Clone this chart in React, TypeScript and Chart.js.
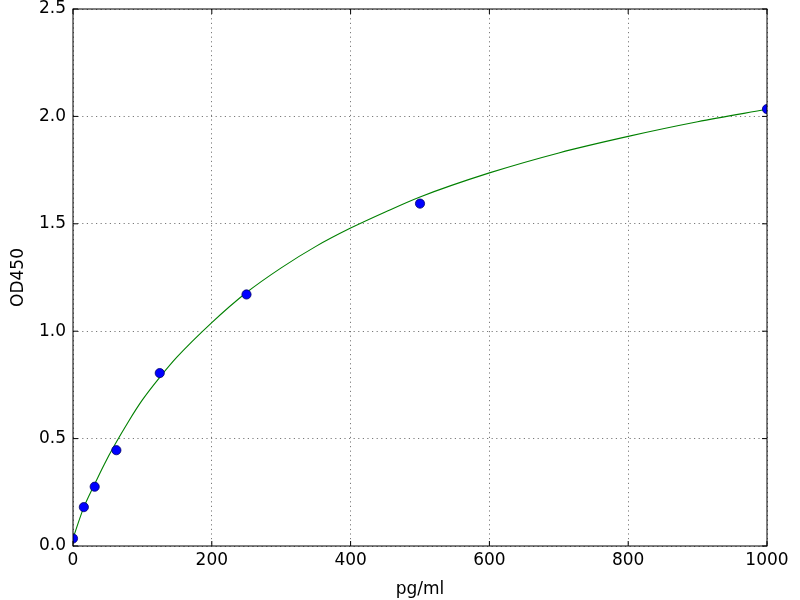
import React, { useEffect, useRef } from "react";
import { Chart, registerables } from "chart.js";

Chart.register(...registerables);

// standards (pg/ml) and measured OD450
const concentrations = [0, 15.625, 31.25, 62.5, 125, 250, 500, 1000];
const odValues = [0.035, 0.181, 0.276, 0.446, 0.805, 1.171, 1.594, 2.034];

// fitted curve
const fitX = [0, 15, 30, 45, 60, 80, 100, 125, 150, 200, 250, 300, 350, 400, 450, 500, 600, 700, 800, 900, 1000];
const fitY = [0.035, 0.175, 0.28, 0.38, 0.47, 0.58, 0.68, 0.785, 0.88, 1.04, 1.18, 1.295, 1.395, 1.48, 1.555, 1.625, 1.737, 1.83, 1.907, 1.975, 2.033];

const xTicks = [0, 200, 400, 600, 800, 1000];
const yTicks = [0, 0.5, 1.0, 1.5, 2.0, 2.5];

// box around the plot with inward tick marks, like matplotlib classic
const framePlugin = {
  id: "frame",
  afterDraw(chart: any) {
    const { ctx, chartArea: a, scales } = chart;
    ctx.save();
    ctx.strokeStyle = "#000";
    ctx.lineWidth = 1;
    ctx.strokeRect(a.left, a.top, a.right - a.left, a.bottom - a.top);
    const len = 5;
    ctx.beginPath();
    xTicks.forEach((v) => {
      const px = scales.x.getPixelForValue(v);
      ctx.moveTo(px, a.bottom);
      ctx.lineTo(px, a.bottom - len);
      ctx.moveTo(px, a.top);
      ctx.lineTo(px, a.top + len);
    });
    yTicks.forEach((v) => {
      const py = scales.y.getPixelForValue(v);
      ctx.moveTo(a.left, py);
      ctx.lineTo(a.left + len, py);
      ctx.moveTo(a.right, py);
      ctx.lineTo(a.right - len, py);
    });
    ctx.stroke();
    ctx.restore();
  },
};

const App = () => {
  const canvasRef = useRef<HTMLCanvasElement>(null);
  const chartRef = useRef<any>(null);

  useEffect(() => {
    document.body.style.margin = "0";
    if (!canvasRef.current) return;
    const ctx: any = canvasRef.current.getContext("2d");

    Chart.defaults.font.family = "DejaVu Sans";
    Chart.defaults.color = "#000";

    chartRef.current = new Chart(ctx, {
      type: "scatter",
      data: {
        datasets: [
          {
            label: "standards",
            data: concentrations.map((c, i) => ({ x: c, y: odValues[i] })),
            backgroundColor: "#0000ff",
            borderColor: "#00006a",
            borderWidth: 0.8,
            pointRadius: 4.6,
            clip: 0,
          },
          {
            label: "fit",
            type: "line",
            data: fitX.map((c, i) => ({ x: c, y: fitY[i] })),
            borderColor: "#008000",
            borderWidth: 1.1,
            pointRadius: 0,
            fill: false,
            cubicInterpolationMode: "monotone",
            clip: 0,
          } as any,
        ],
      },
      options: {
        animation: false,
        responsive: true,
        maintainAspectRatio: false,
        layout: { padding: { left: 0, right: 33, top: 9, bottom: 0 } },
        plugins: {
          legend: { display: false },
          tooltip: { enabled: false },
        },
        scales: {
          x: {
            type: "linear",
            min: 0,
            max: 1000,
            afterFit: (s: any) => {
              s.height = 54;
              s.paddingLeft = 0;
              s.paddingRight = 0;
            },
            afterBuildTicks: (s: any) => {
              s.ticks = xTicks.map((v) => ({ value: v }));
            },
            ticks: {
              font: { size: 17 },
              padding: 4,
              maxRotation: 0,
              callback: (v: any) => String(v),
            },
            grid: {
              color: "rgba(0,0,0,0.75)",
              lineWidth: 0.7,
              drawTicks: false,
            },
            border: { display: false, dash: [1.2, 3.4] },
            title: {
              display: true,
              text: "pg/ml",
              font: { size: 17 },
              padding: { top: 0, bottom: 0 },
            },
          },
          y: {
            type: "linear",
            min: 0,
            max: 2.5,
            afterFit: (s: any) => {
              s.width = 73;
              s.paddingTop = 0;
              s.paddingBottom = 0;
            },
            afterBuildTicks: (s: any) => {
              s.ticks = yTicks.map((v) => ({ value: v }));
            },
            ticks: {
              font: { size: 17 },
              padding: 7,
              callback: (v: any) => Number(v).toFixed(1),
            },
            grid: {
              color: "rgba(0,0,0,0.75)",
              lineWidth: 0.7,
              drawTicks: false,
            },
            border: { display: false, dash: [1.2, 3.4] },
            title: {
              display: true,
              text: "OD450",
              font: { size: 17 },
              padding: { top: 8, bottom: 0 },
            },
          },
        },
      },
      plugins: [framePlugin],
    });

    return () => {
      if (chartRef.current) chartRef.current.destroy();
    };
  }, []);

  return (
    <div style={{ position: "absolute", left: 0, top: 0, width: "800px", height: "600px", background: "#fff" }}>
      <canvas ref={canvasRef} />
    </div>
  );
};

export default App;
